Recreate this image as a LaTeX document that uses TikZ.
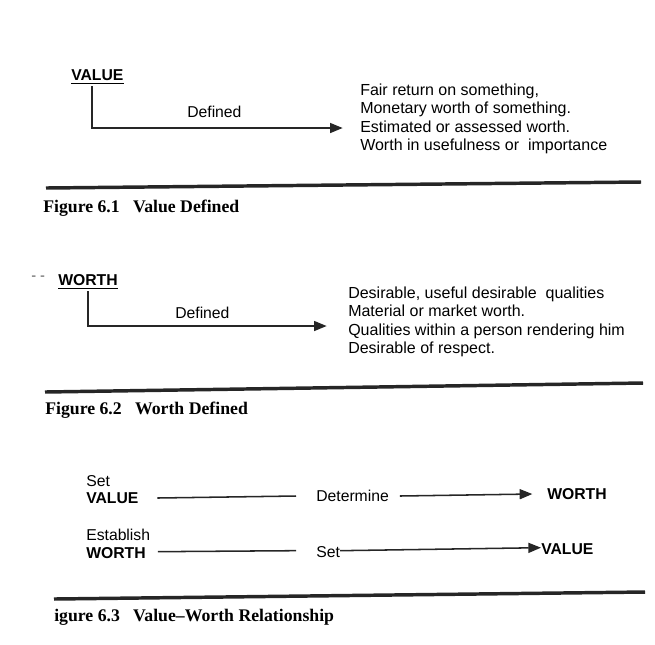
\documentclass[tikz,border=0pt]{standalone}
\usepackage{fontspec}
\setmainfont{Liberation Sans}
\newfontfamily\capfont{Liberation Serif}
\usetikzlibrary{arrows.meta}
\begin{document}
\begin{tikzpicture}[x=0.75pt,y=-0.75pt,
  txt/.style={inner sep=0pt,anchor=west,font=\fontsize{11.8pt}{14.6pt}\selectfont},
  head/.style={inner sep=0pt,anchor=west,font=\fontsize{11.8pt}{14pt}\selectfont\bfseries},
  block/.style={inner sep=0pt,anchor=west,align=left,font=\fontsize{12pt}{13.8pt}\selectfont},
  figcap/.style={inner sep=0pt,anchor=west,font=\capfont\bfseries\fontsize{13.3pt}{15pt}\selectfont},
  conn/.style={line width=1.15pt,draw=black!85},
  arr/.style={conn,-{Triangle[length=9.5pt,width=7.5pt]}},
  rulebar/.style={line width=2.6pt,draw=black!85}]
\useasboundingbox (0,0) rectangle (655,644);
% ---------- Figure 6.1
\node[head] (val) at (71,75) {VALUE};
\draw[line width=0.9pt] (val.south west) ++(0,3) coordinate (u1) -- (val.south east |- u1);
\coordinate (c1) at (92,128);
\node[txt] (def1) at (187,112) {Defined};
\node[block] (list1) at (360,119) {Fair return on something,\\Monetary worth of something.\\Estimated or assessed worth.\\Worth in usefulness or\ \ importance};
\coordinate (t1) at ([xshift=-13]list1.west |- c1);
\draw[arr] ([yshift=-4]val.south -| c1) -- (c1) -- (t1);
\draw[rulebar] (46,188) -- (641,182);
\node[figcap] (cap1) at (43,208) {Figure 6.1\ \ \ Value Defined};
% ---------- Figure 6.2
\node[inner sep=0pt,anchor=west,text=black!65,font=\fontsize{11pt}{12pt}\selectfont] (dd) at (31,278) {- -};
\node[head] (wor) at (58,280) {WORTH};
\draw[line width=0.9pt] (wor.south west) ++(0,3) coordinate (u2) -- (wor.south east |- u2);
\coordinate (c2) at (88,326);
\node[txt] (def2) at (175,313) {Defined};
\node[block] (list2) at (348,322) {Desirable, useful desirable\ \ qualities\\Material or market worth.\\Qualities within a person rendering him\\Desirable of respect.};
\coordinate (t2) at ([xshift=-16]list2.west |- c2);
\draw[arr] ([yshift=-4]wor.south -| c2) -- (c2) -- (t2);
\draw[rulebar] (45,392) -- (643,383);
\node[figcap] (cap2) at (45,410) {Figure 6.2\ \ \ Worth Defined};
% ---------- Figure 6.3
\node[txt] (set1) at (86,481) {Set};
\node[head] (v3) at (86,498) {VALUE};
\node[txt] (det) at (316,496) {Determine};
\node[head] (w3) at (547,494) {WORTH};
\draw[conn] ([xshift=14]v3.east) -- ([xshift=-15]det.west);
\draw[arr] ([xshift=8]det.east) -- ([xshift=-11]w3.west);
\node[txt] (est) at (86,535) {Establish};
\node[head] (w4) at (86,553) {WORTH};
\node[txt] (set2) at (316,552) {Set};
\node[head] (v4) at (541,549) {VALUE};
\draw[conn] ([xshift=9,yshift=1]w4.east) -- ([xshift=-15,yshift=1]set2.west);
\draw[arr] ([yshift=1]set2.east) -- ([yshift=1]v4.west);
\draw[rulebar] (54,599) -- (645,592);
\node[figcap] (cap3) at (54,617) {igure 6.3\ \ \ Value–Worth Relationship};
\end{tikzpicture}
\end{document}
